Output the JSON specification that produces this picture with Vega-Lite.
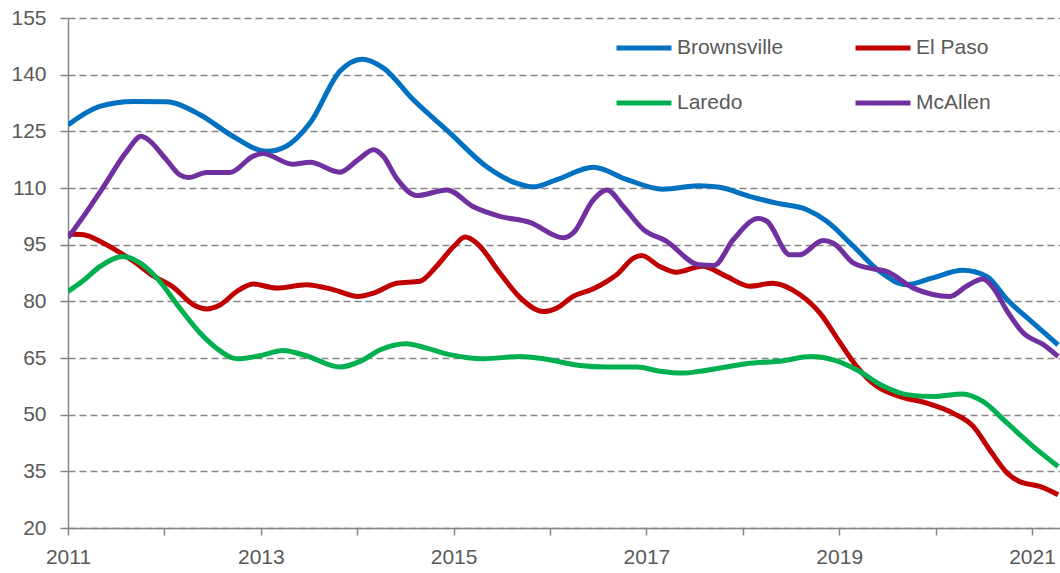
{
  "$schema": "https://vega.github.io/schema/vega-lite/v6.json",
  "width": 992,
  "height": 510,
  "autosize": {"type": "none"},
  "padding": {"left": 68, "top": 18, "right": 0, "bottom": 45},
  "background": "white",
  "config": {"view": {"stroke": null}, "font": "Liberation Sans"},
  "data": {"values": [
    {"city": "Brownsville", "year": 2011.00, "value": 126.7},
    {"city": "Brownsville", "year": 2011.33, "value": 131.6},
    {"city": "Brownsville", "year": 2011.68, "value": 132.9},
    {"city": "Brownsville", "year": 2012.02, "value": 132.8},
    {"city": "Brownsville", "year": 2012.37, "value": 129.4},
    {"city": "Brownsville", "year": 2012.71, "value": 123.7},
    {"city": "Brownsville", "year": 2013.06, "value": 119.7},
    {"city": "Brownsville", "year": 2013.26, "value": 121.0},
    {"city": "Brownsville", "year": 2013.51, "value": 127.2},
    {"city": "Brownsville", "year": 2013.82, "value": 140.9},
    {"city": "Brownsville", "year": 2014.05, "value": 144.1},
    {"city": "Brownsville", "year": 2014.27, "value": 141.8},
    {"city": "Brownsville", "year": 2014.58, "value": 133.4},
    {"city": "Brownsville", "year": 2014.96, "value": 124.6},
    {"city": "Brownsville", "year": 2015.34, "value": 115.7},
    {"city": "Brownsville", "year": 2015.65, "value": 111.3},
    {"city": "Brownsville", "year": 2015.83, "value": 110.3},
    {"city": "Brownsville", "year": 2016.07, "value": 112.2},
    {"city": "Brownsville", "year": 2016.45, "value": 115.5},
    {"city": "Brownsville", "year": 2016.80, "value": 112.2},
    {"city": "Brownsville", "year": 2017.17, "value": 109.7},
    {"city": "Brownsville", "year": 2017.54, "value": 110.6},
    {"city": "Brownsville", "year": 2017.76, "value": 110.2},
    {"city": "Brownsville", "year": 2018.07, "value": 107.8},
    {"city": "Brownsville", "year": 2018.35, "value": 106.0},
    {"city": "Brownsville", "year": 2018.66, "value": 104.3},
    {"city": "Brownsville", "year": 2018.87, "value": 101.2},
    {"city": "Brownsville", "year": 2019.15, "value": 94.5},
    {"city": "Brownsville", "year": 2019.42, "value": 87.9},
    {"city": "Brownsville", "year": 2019.70, "value": 84.4},
    {"city": "Brownsville", "year": 2019.97, "value": 86.2},
    {"city": "Brownsville", "year": 2020.28, "value": 88.2},
    {"city": "Brownsville", "year": 2020.53, "value": 86.6},
    {"city": "Brownsville", "year": 2020.74, "value": 80.5},
    {"city": "Brownsville", "year": 2021.01, "value": 74.3},
    {"city": "Brownsville", "year": 2021.27, "value": 68.5},

    {"city": "El Paso", "year": 2011.00, "value": 97.8},
    {"city": "El Paso", "year": 2011.16, "value": 97.6},
    {"city": "El Paso", "year": 2011.33, "value": 95.9},
    {"city": "El Paso", "year": 2011.50, "value": 93.5},
    {"city": "El Paso", "year": 2011.68, "value": 90.6},
    {"city": "El Paso", "year": 2011.88, "value": 86.8},
    {"city": "El Paso", "year": 2012.09, "value": 83.8},
    {"city": "El Paso", "year": 2012.30, "value": 79.1},
    {"city": "El Paso", "year": 2012.44, "value": 78.0},
    {"city": "El Paso", "year": 2012.58, "value": 79.1},
    {"city": "El Paso", "year": 2012.75, "value": 82.6},
    {"city": "El Paso", "year": 2012.92, "value": 84.6},
    {"city": "El Paso", "year": 2013.16, "value": 83.5},
    {"city": "El Paso", "year": 2013.47, "value": 84.4},
    {"city": "El Paso", "year": 2013.75, "value": 83.1},
    {"city": "El Paso", "year": 2014.01, "value": 81.3},
    {"city": "El Paso", "year": 2014.17, "value": 82.2},
    {"city": "El Paso", "year": 2014.41, "value": 84.8},
    {"city": "El Paso", "year": 2014.65, "value": 85.3},
    {"city": "El Paso", "year": 2014.82, "value": 89.2},
    {"city": "El Paso", "year": 2015.00, "value": 94.5},
    {"city": "El Paso", "year": 2015.12, "value": 97.0},
    {"city": "El Paso", "year": 2015.24, "value": 95.4},
    {"city": "El Paso", "year": 2015.48, "value": 87.5},
    {"city": "El Paso", "year": 2015.69, "value": 81.0},
    {"city": "El Paso", "year": 2015.93, "value": 77.3},
    {"city": "El Paso", "year": 2016.07, "value": 78.2},
    {"city": "El Paso", "year": 2016.24, "value": 81.3},
    {"city": "El Paso", "year": 2016.45, "value": 83.3},
    {"city": "El Paso", "year": 2016.59, "value": 85.3},
    {"city": "El Paso", "year": 2016.69, "value": 87.0},
    {"city": "El Paso", "year": 2016.87, "value": 91.5},
    {"city": "El Paso", "year": 2016.95, "value": 92.1},
    {"city": "El Paso", "year": 2017.14, "value": 89.2},
    {"city": "El Paso", "year": 2017.31, "value": 87.7},
    {"city": "El Paso", "year": 2017.58, "value": 89.3},
    {"city": "El Paso", "year": 2017.83, "value": 86.6},
    {"city": "El Paso", "year": 2018.07, "value": 84.0},
    {"city": "El Paso", "year": 2018.31, "value": 84.8},
    {"city": "El Paso", "year": 2018.59, "value": 81.8},
    {"city": "El Paso", "year": 2018.80, "value": 76.9},
    {"city": "El Paso", "year": 2019.01, "value": 69.0},
    {"city": "El Paso", "year": 2019.18, "value": 62.8},
    {"city": "El Paso", "year": 2019.39, "value": 57.5},
    {"city": "El Paso", "year": 2019.63, "value": 54.8},
    {"city": "El Paso", "year": 2019.90, "value": 53.1},
    {"city": "El Paso", "year": 2020.18, "value": 50.4},
    {"city": "El Paso", "year": 2020.39, "value": 46.9},
    {"city": "El Paso", "year": 2020.56, "value": 40.7},
    {"city": "El Paso", "year": 2020.74, "value": 34.6},
    {"city": "El Paso", "year": 2020.87, "value": 32.3},
    {"city": "El Paso", "year": 2021.08, "value": 31.0},
    {"city": "El Paso", "year": 2021.27, "value": 28.8},

    {"city": "Laredo", "year": 2011.00, "value": 82.6},
    {"city": "Laredo", "year": 2011.16, "value": 85.5},
    {"city": "Laredo", "year": 2011.33, "value": 89.2},
    {"city": "Laredo", "year": 2011.57, "value": 91.9},
    {"city": "Laredo", "year": 2011.75, "value": 90.1},
    {"city": "Laredo", "year": 2011.92, "value": 86.2},
    {"city": "Laredo", "year": 2012.16, "value": 78.2},
    {"city": "Laredo", "year": 2012.37, "value": 71.6},
    {"city": "Laredo", "year": 2012.54, "value": 67.6},
    {"city": "Laredo", "year": 2012.75, "value": 64.8},
    {"city": "Laredo", "year": 2012.99, "value": 65.6},
    {"city": "Laredo", "year": 2013.23, "value": 67.0},
    {"city": "Laredo", "year": 2013.47, "value": 65.6},
    {"city": "Laredo", "year": 2013.82, "value": 62.6},
    {"city": "Laredo", "year": 2014.03, "value": 64.1},
    {"city": "Laredo", "year": 2014.24, "value": 67.2},
    {"city": "Laredo", "year": 2014.51, "value": 68.8},
    {"city": "Laredo", "year": 2014.72, "value": 67.6},
    {"city": "Laredo", "year": 2014.96, "value": 65.9},
    {"city": "Laredo", "year": 2015.31, "value": 64.8},
    {"city": "Laredo", "year": 2015.69, "value": 65.4},
    {"city": "Laredo", "year": 2015.93, "value": 64.8},
    {"city": "Laredo", "year": 2016.31, "value": 63.0},
    {"city": "Laredo", "year": 2016.59, "value": 62.6},
    {"city": "Laredo", "year": 2016.90, "value": 62.6},
    {"city": "Laredo", "year": 2017.14, "value": 61.5},
    {"city": "Laredo", "year": 2017.38, "value": 61.0},
    {"city": "Laredo", "year": 2017.56, "value": 61.5},
    {"city": "Laredo", "year": 2018.04, "value": 63.5},
    {"city": "Laredo", "year": 2018.42, "value": 64.3},
    {"city": "Laredo", "year": 2018.70, "value": 65.4},
    {"city": "Laredo", "year": 2018.94, "value": 64.5},
    {"city": "Laredo", "year": 2019.18, "value": 61.9},
    {"city": "Laredo", "year": 2019.46, "value": 57.5},
    {"city": "Laredo", "year": 2019.70, "value": 55.3},
    {"city": "Laredo", "year": 2019.97, "value": 54.8},
    {"city": "Laredo", "year": 2020.28, "value": 55.5},
    {"city": "Laredo", "year": 2020.49, "value": 53.5},
    {"city": "Laredo", "year": 2020.74, "value": 47.8},
    {"city": "Laredo", "year": 2021.01, "value": 41.6},
    {"city": "Laredo", "year": 2021.27, "value": 36.3},

    {"city": "McAllen", "year": 2011.00, "value": 96.8},
    {"city": "McAllen", "year": 2011.16, "value": 102.5},
    {"city": "McAllen", "year": 2011.37, "value": 110.4},
    {"city": "McAllen", "year": 2011.61, "value": 119.7},
    {"city": "McAllen", "year": 2011.76, "value": 123.7},
    {"city": "McAllen", "year": 2011.81, "value": 123.2},
    {"city": "McAllen", "year": 2012.02, "value": 117.5},
    {"city": "McAllen", "year": 2012.16, "value": 113.5},
    {"city": "McAllen", "year": 2012.25, "value": 112.8},
    {"city": "McAllen", "year": 2012.44, "value": 114.1},
    {"city": "McAllen", "year": 2012.68, "value": 114.1},
    {"city": "McAllen", "year": 2012.92, "value": 118.4},
    {"city": "McAllen", "year": 2013.02, "value": 119.1},
    {"city": "McAllen", "year": 2013.33, "value": 116.3},
    {"city": "McAllen", "year": 2013.51, "value": 116.8},
    {"city": "McAllen", "year": 2013.82, "value": 114.2},
    {"city": "McAllen", "year": 2014.01, "value": 117.5},
    {"city": "McAllen", "year": 2014.17, "value": 120.1},
    {"city": "McAllen", "year": 2014.27, "value": 118.4},
    {"city": "McAllen", "year": 2014.41, "value": 112.5},
    {"city": "McAllen", "year": 2014.62, "value": 108.0},
    {"city": "McAllen", "year": 2014.93, "value": 109.5},
    {"city": "McAllen", "year": 2015.20, "value": 105.1},
    {"city": "McAllen", "year": 2015.48, "value": 102.5},
    {"city": "McAllen", "year": 2015.79, "value": 100.9},
    {"city": "McAllen", "year": 2016.14, "value": 96.8},
    {"city": "McAllen", "year": 2016.24, "value": 98.1},
    {"city": "McAllen", "year": 2016.45, "value": 106.9},
    {"city": "McAllen", "year": 2016.59, "value": 109.5},
    {"city": "McAllen", "year": 2016.76, "value": 105.1},
    {"city": "McAllen", "year": 2016.97, "value": 99.0},
    {"city": "McAllen", "year": 2017.21, "value": 95.9},
    {"city": "McAllen", "year": 2017.54, "value": 89.7},
    {"city": "McAllen", "year": 2017.70, "value": 89.5},
    {"city": "McAllen", "year": 2017.90, "value": 96.3},
    {"city": "McAllen", "year": 2018.16, "value": 101.9},
    {"city": "McAllen", "year": 2018.25, "value": 101.2},
    {"city": "McAllen", "year": 2018.49, "value": 92.3},
    {"city": "McAllen", "year": 2018.59, "value": 92.3},
    {"city": "McAllen", "year": 2018.83, "value": 96.1},
    {"city": "McAllen", "year": 2018.94, "value": 95.4},
    {"city": "McAllen", "year": 2019.15, "value": 90.1},
    {"city": "McAllen", "year": 2019.35, "value": 88.6},
    {"city": "McAllen", "year": 2019.49, "value": 87.9},
    {"city": "McAllen", "year": 2019.77, "value": 83.5},
    {"city": "McAllen", "year": 2019.97, "value": 81.8},
    {"city": "McAllen", "year": 2020.15, "value": 81.3},
    {"city": "McAllen", "year": 2020.32, "value": 84.0},
    {"city": "McAllen", "year": 2020.49, "value": 85.9},
    {"city": "McAllen", "year": 2020.60, "value": 83.5},
    {"city": "McAllen", "year": 2020.74, "value": 77.5},
    {"city": "McAllen", "year": 2020.91, "value": 71.6},
    {"city": "McAllen", "year": 2021.12, "value": 68.5},
    {"city": "McAllen", "year": 2021.27, "value": 65.4}
  ]},
  "mark": {"type": "line", "interpolate": "monotone", "strokeWidth": 5, "clip": true, "strokeJoin": "round"},
  "encoding": {
    "x": {
      "field": "year", "type": "quantitative",
      "scale": {"domain": [2011, 2021.29], "nice": false, "zero": false},
      "axis": {
        "title": null,
        "values": [2011, 2012, 2013, 2014, 2015, 2016, 2017, 2018, 2019, 2020, 2021],
        "labelExpr": "datum.value % 2 == 1 ? format(datum.value, 'd') : ''",
        "grid": false,
        "domainColor": "#868686", "domainWidth": 1.5,
        "tickColor": "#868686", "tickWidth": 1.5, "tickSize": 7,
        "labelFontSize": 21, "labelColor": "#595959", "labelPadding": 11,
        "labelFlush": false, "labelOverlap": false
      }
    },
    "y": {
      "field": "value", "type": "quantitative",
      "scale": {"domain": [20, 155], "nice": false, "zero": false},
      "axis": {
        "title": null,
        "values": [20, 35, 50, 65, 80, 95, 110, 125, 140, 155],
        "grid": true, "gridColor": "#868686", "gridWidth": 1.5, "gridDash": [7, 4],
        "domainColor": "#868686", "domainWidth": 1.5,
        "tickColor": "#868686", "tickWidth": 1.5, "tickSize": 8,
        "labelFontSize": 21, "labelColor": "#595959", "labelPadding": 14,
        "labelFlush": false, "labelOverlap": false
      }
    },
    "color": {
      "field": "city", "type": "nominal",
      "scale": {"domain": ["Brownsville", "El Paso", "Laredo", "McAllen"], "range": ["#0070C0", "#C00000", "#00B050", "#7030A0"]},
      "legend": {
        "title": null, "orient": "none", "legendX": 546, "legendY": 0,
        "direction": "horizontal",
        "columns": 2, "symbolType": "stroke", "symbolSize": 3025, "symbolStrokeWidth": 5,
        "labelFontSize": 21, "labelColor": "#595959", "labelOffset": 3,
        "columnPadding": 61, "rowPadding": 15, "padding": 0
      }
    }
  }
}
